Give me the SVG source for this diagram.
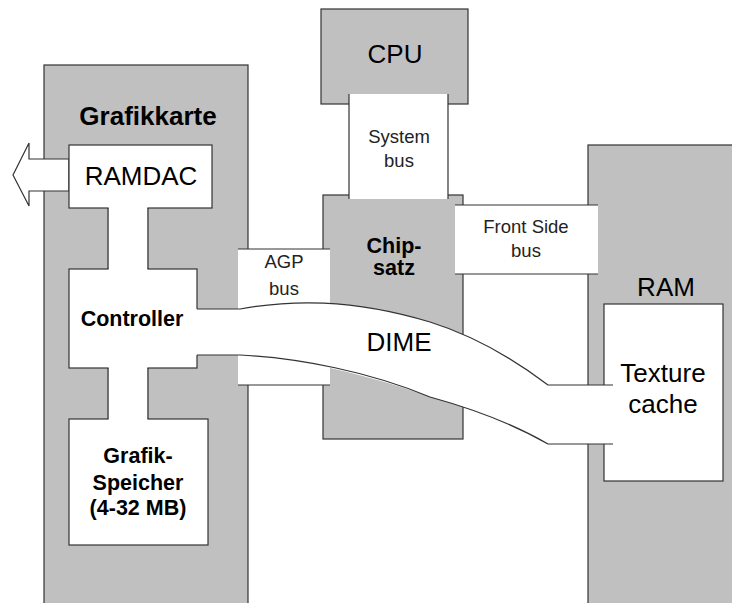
<svg xmlns="http://www.w3.org/2000/svg" width="732" height="603" viewBox="0 0 732 603">
<style>
.g{fill:#c0c0c0;stroke:#333;stroke-width:1.2}
.w{fill:#fff;stroke:#333;stroke-width:1.2}
.wf{fill:#fff;stroke:none}
.ln{fill:none;stroke:#333;stroke-width:1.2}
text{font-family:"Liberation Sans",Arial,sans-serif;fill:#000;text-anchor:middle}
.b{font-weight:bold}
.L{font-size:26px}
.M{font-size:21.5px}
.S{font-size:18.5px;fill:#222}
</style>
<rect width="732" height="603" fill="#fff"/>
<g id="grafikkarte">
<rect class="g" x="44" y="65" width="204" height="560"/>
<text class="b L" x="148" y="125">Grafikkarte</text>
</g>
<g id="cpu">
<rect class="g" x="321" y="9" width="147" height="95"/>
<text class="L" x="395" y="63">CPU</text>
</g>
<g id="chipsatz">
<rect class="g" x="323" y="195" width="140" height="244"/>
<text class="b M" x="394" y="253">Chip-</text>
<text class="b M" x="394" y="275">satz</text>
</g>
<g id="ram">
<rect class="g" x="588" y="145" width="160" height="480"/>
<text class="L" x="666" y="296">RAM</text>
</g>
<g id="texture-cache">
<rect class="w" x="604" y="304" width="119" height="177"/>
</g>
<g id="system-bus">
<rect class="wf" x="349" y="94" width="99" height="105"/>
<path class="ln" d="M349,94V199M448,94V199"/>
<text class="S" x="399" y="143">System</text>
<text class="S" x="399" y="167">bus</text>
</g>
<g id="front-side-bus">
<rect class="wf" x="455" y="205" width="143" height="69"/>
<path class="ln" d="M455,205H598M455,274H598"/>
<text class="S" x="526" y="233">Front Side</text>
<text class="S" x="526" y="257">bus</text>
</g>
<g id="agp-bus">
<rect class="wf" x="238" y="249" width="92" height="136"/>
<path class="ln" d="M238,249H330M238,385H330"/>
<text class="S" x="284" y="268">AGP</text>
<text class="S" x="284" y="295">bus</text>
</g>
<g id="ramdac">
<polygon class="w" points="69,159 29,159 29,143 13,175 29,206 29,191 69,191"/>
<rect class="w" x="69" y="145" width="143" height="63"/>
<text class="L" x="141" y="185">RAMDAC</text>
</g>
<g id="controller">
<rect class="w" x="69" y="269" width="128" height="99"/>
<text class="b M" x="132" y="326">Controller</text>
</g>
<g id="grafik-speicher">
<rect class="w" x="69" y="419" width="139" height="126"/>
<text class="b M" x="138" y="463">Grafik-</text>
<text class="b M" x="138" y="490">Speicher</text>
<text class="b M" x="138" y="515">(4-32 MB)</text>
</g>
<g id="connectors">
<rect class="wf" x="108.6" y="207" width="38.8" height="63"/>
<path class="ln" d="M108,208V269M148,208V269"/>
<rect class="wf" x="108.6" y="367" width="38.8" height="53"/>
<path class="ln" d="M108,368V419M148,368V419"/>
<path class="wf" d="M196,309 L240,309 C290,300 350,298 430,322 C475,336 515,360 548,385 L613,385 L613,444 L548,444 C515,425 470,408 430,397 C380,378 300,358 240,355 L196,355 Z"/>
<path class="ln" d="M197,309 L240,309 C290,300 350,298 430,322 C475,336 515,360 548,385 L613,385"/>
<path class="ln" d="M197,355 L240,355 C300,358 370,372 430,397 C470,408 515,425 548,444 L613,444"/>
<text class="L" x="399" y="351">DIME</text>
</g>
<g id="texture-label">
<text class="L" x="663" y="382">Texture</text>
<text class="L" x="663" y="413">cache</text>
</g>
</svg>
